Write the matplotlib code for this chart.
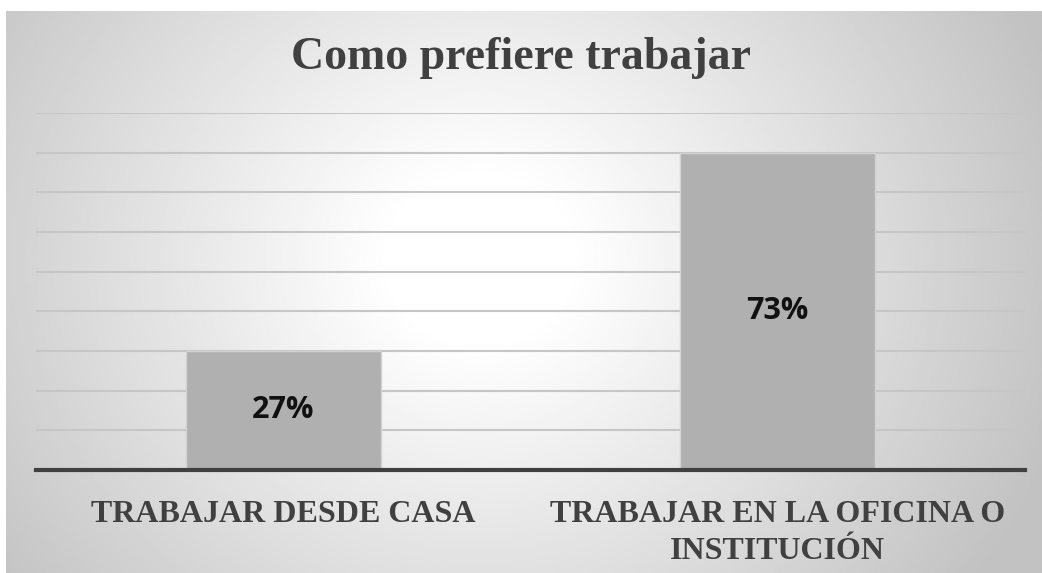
"""Gráfico de barras: Como prefiere trabajar."""

import matplotlib

matplotlib.use("Agg")

import matplotlib.pyplot as plt
import numpy as np

categories = [
    "TRABAJAR DESDE CASA",
    "TRABAJAR EN LA OFICINA O\nINSTITUCIÓN",
]
counts = [3, 8]
percent_labels = ["27%", "73%"]
y_max = 9

title = "Como prefiere trabajar"

width_px, height_px = 1042, 573
figure = plt.figure(
    figsize=(width_px / 100, height_px / 100),
    dpi=100,
)

# fondo con degradado radial
background = figure.add_axes(
    [6 / width_px, 0, 1 - 6 / width_px, 1 - 11 / height_px]
)
grid_x, grid_y = np.meshgrid(
    np.linspace(6, width_px, 400),
    np.linspace(11, height_px, 240),
)
distance = np.hypot(grid_x - 480, (grid_y - 260) * 1.1)
shade = np.clip((distance - 90) / 520, 0, 1)
tone = 1.0 - 0.24 * shade
background.imshow(
    tone,
    cmap="gray",
    vmin=0,
    vmax=1,
    aspect="auto",
    extent=(0, 1, 0, 1),
    interpolation="bilinear",
)
background.set_axis_off()

axis = figure.add_axes(
    [
        36 / width_px,
        (height_px - 470) / height_px,
        (1025 - 36) / width_px,
        (470 - 113) / height_px,
    ]
)
axis.patch.set_alpha(0)

positions = np.arange(len(categories))
bars = axis.bar(
    positions,
    counts,
    width=0.395,
    color="#b0b0b0",
    edgecolor="#d2d2d2",
    linewidth=1,
    zorder=3,
)

for bar, label in zip(bars, percent_labels):
    axis.text(
        bar.get_x() + bar.get_width() / 2,
        bar.get_height() / 2,
        label,
        ha="center",
        va="center",
        fontsize=22,
        fontweight="bold",
        family="Open Sans",
        color="#111111",
        zorder=4,
    )

axis.set_xlim(-0.5, len(categories) - 0.5)
axis.set_ylim(0, y_max)
axis.set_yticks(range(1, y_max + 1))
axis.yaxis.grid(True, color="#c6c6c6", linewidth=1.5, zorder=1)
axis.tick_params(axis="y", left=False, labelleft=False)
axis.tick_params(axis="x", bottom=False, pad=18)
axis.set_xticks(positions)
axis.set_xticklabels(
    categories,
    family="Liberation Serif",
    fontweight="bold",
    fontsize=23,
    color="#404040",
    linespacing=1.35,
    va="top",
)

for side in ["top", "right", "left"]:
    axis.spines[side].set_visible(False)
axis.spines["bottom"].set_color("#404040")
axis.spines["bottom"].set_linewidth(3)
axis.spines["bottom"].set_zorder(5)

figure.text(
    0.5,
    1 - 58 / height_px,
    title,
    ha="center",
    va="center",
    family="Liberation Serif",
    fontweight="bold",
    fontsize=33,
    color="#404040",
)

figure.savefig("out.png", dpi=100)
plt.close(figure)
